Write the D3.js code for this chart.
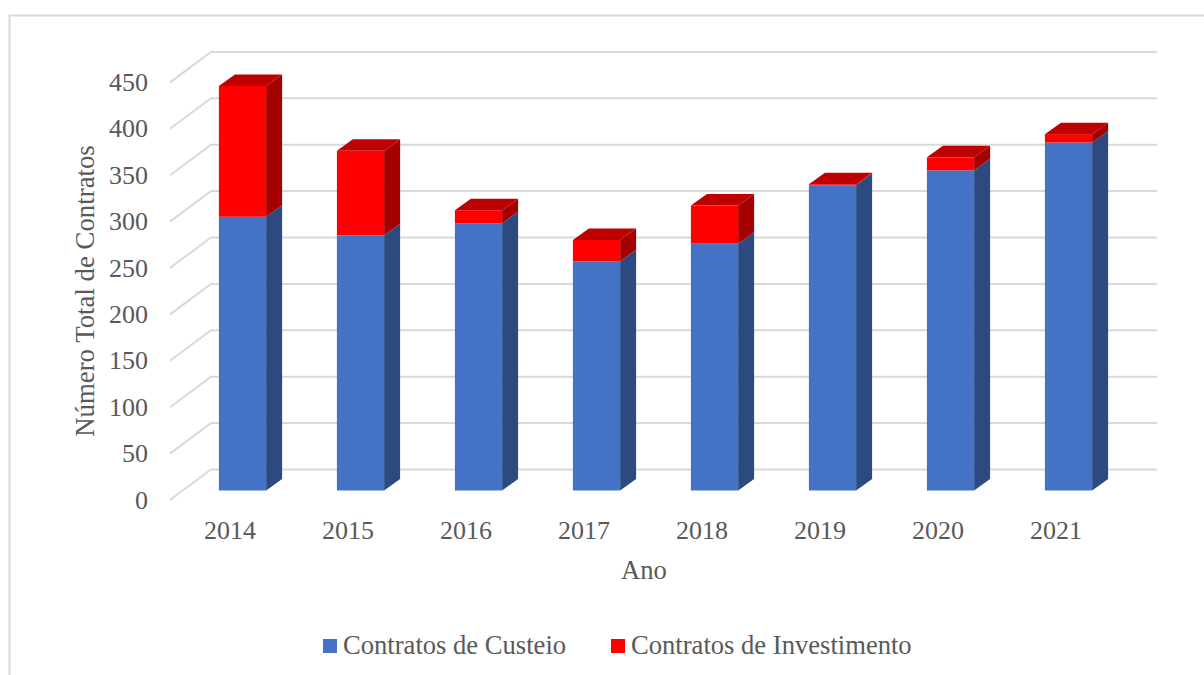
<!DOCTYPE html>
<html><head><meta charset="utf-8">
<script src="https://cdnjs.cloudflare.com/ajax/libs/d3/7.8.5/d3.min.js"></script>
<style>html,body{margin:0;padding:0;background:#fff}svg{display:block}
text{font-family:"Liberation Serif",serif;fill:#595959}</style></head>
<body><script>
const anos=["2014","2015","2016","2017","2018","2019","2020","2021"];
const custeio=[295,275,288,247,266,329,345,375];
const investimento=[141,91,14,23,41,1,14,9];
const ticks=[0,50,100,150,200,250,300,350,400,450];
const seriesNames=["Contratos de Custeio","Contratos de Investimento"];

const W=1204,H=675;
const svg=d3.select("body").append("svg").attr("width",W).attr("height",H);
const frame="#d9d9d9";
svg.append("path").attr("d","M9.5,675V15.5H1204").attr("fill","none").attr("stroke",frame).attr("stroke-width",2);

// front-plane scale; wall is offset in depth
const y=d3.scaleLinear().domain([0,450]).range([490.5,72.9]);
const x=d3.scaleBand().domain(anos).range([183.5,1127.5]).paddingInner(0.6).paddingOuter(0.3);
const wall={x0:170,x1:211,x2:1157,dyFront:9.5,dyBack:-21};
const bar={dx:16,dy:-11.5};

const grid=svg.append("g").attr("fill","none").attr("stroke",frame).attr("stroke-width",2);
ticks.forEach(t=>{
  const p=y(t);
  grid.append("path").attr("d",`M${wall.x0},${p+wall.dyFront}L${wall.x1},${p+wall.dyBack}H${wall.x2}`);
});
ticks.forEach(t=>{
  svg.append("text").attr("x",148).attr("y",y(t)+wall.dyFront).attr("dy","0.33em")
    .attr("text-anchor","end").attr("font-size",26).text(t);
});

const colors=[{f:"#4472C4",s:"#2A4A80",t:"#335A9E"},{f:"#FF0000",s:"#A50000",t:"#BE0000"}];
const poly=(g,pts,fill)=>g.append("polygon").attr("points",pts.map(p=>p.join(",")).join(" ")).attr("fill",fill);
anos.forEach((a,i)=>{
  const g=svg.append("g");
  const x0=x(a),x1=x0+x.bandwidth();
  const stack=[[0,custeio[i]],[custeio[i],custeio[i]+investimento[i]]];
  stack.forEach(([lo,hi],k)=>{
    const yb=y(lo),yt=y(hi),c=colors[k];
    poly(g,[[x1,yb],[x1+bar.dx,yb+bar.dy],[x1+bar.dx,yt+bar.dy],[x1,yt]],c.s);
    g.append("rect").attr("x",x0).attr("y",yt).attr("width",x1-x0).attr("height",yb-yt).attr("fill",c.f);
    if(k===1) poly(g,[[x0,yt],[x1,yt],[x1+bar.dx,yt+bar.dy],[x0+bar.dx,yt+bar.dy]],c.t);
  });
  svg.append("text").attr("x",(x0+x1)/2-12.5).attr("y",539).attr("text-anchor","middle").attr("font-size",26).text(a);
});

svg.append("text").attr("x",644).attr("y",579).attr("text-anchor","middle").attr("font-size",26.6).text("Ano");
svg.append("text").attr("transform","translate(94,291) rotate(-90)").attr("text-anchor","middle").attr("font-size",26.8).text("Número Total de Contratos");

const lg=[{x:323,tx:343,c:colors[0].f},{x:611,tx:631,c:colors[1].f}];
lg.forEach((l,i)=>{
  svg.append("rect").attr("x",l.x).attr("y",639).attr("width",14).attr("height",14).attr("fill",l.c);
  svg.append("text").attr("x",l.tx).attr("y",654).attr("font-size",26.6).text(seriesNames[i]);
});
</script></body></html>
